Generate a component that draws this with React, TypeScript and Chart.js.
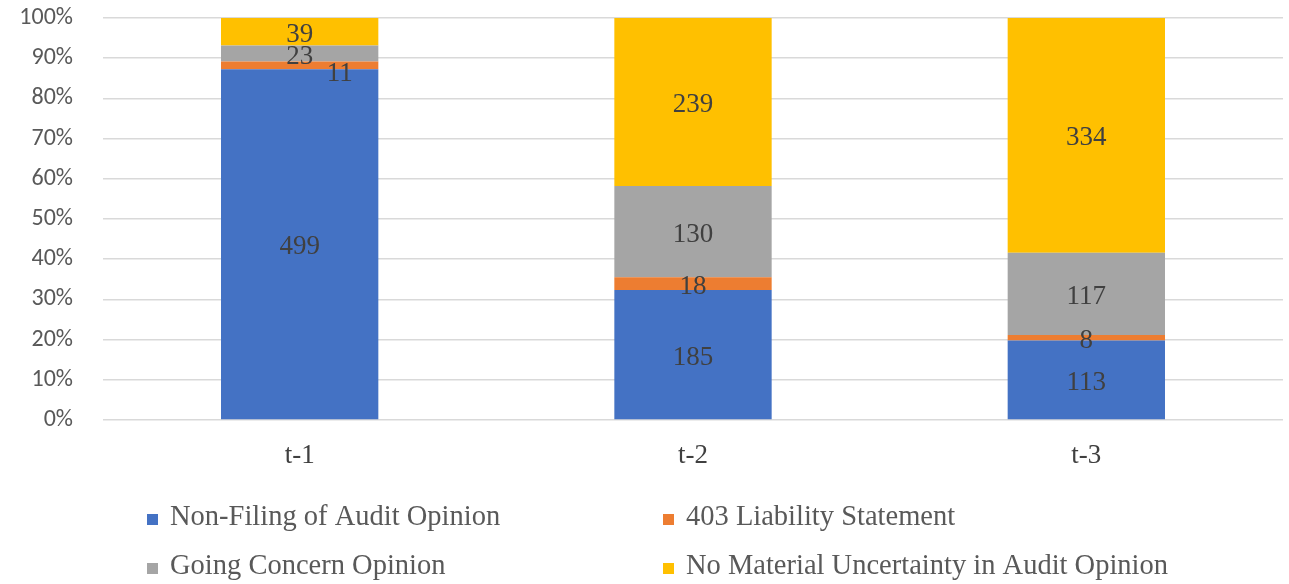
import React, { useEffect, useRef } from "react";
import { Chart, registerables } from "chart.js";

Chart.register(...registerables);

const categories = ["t-1", "t-2", "t-3"];
const seriesNames = [
  "Non-Filing of Audit Opinion",
  "403 Liability Statement",
  "Going Concern Opinion",
  "No Material Uncertainty in Audit Opinion",
];
const nonFiling = [499, 185, 113];
const liability403 = [11, 18, 8];
const goingConcern = [23, 130, 117];
const noMaterial = [39, 239, 334];
const colors = ["#4472C4", "#ED7D31", "#A5A5A5", "#FFC000"];
const yTicks = [0, 10, 20, 30, 40, 50, 60, 70, 80, 90, 100];

const counts = [nonFiling, liability403, goingConcern, noMaterial];
const totals = categories.map((_, i) => counts.reduce((s, a) => s + a[i], 0));

const SERIF = "'Liberation Serif', 'Times New Roman', serif";
const SANS = "Carlito, Lato, 'Liberation Sans', sans-serif";

const labelPlugin = {
  id: "segLabels",
  afterDatasetsDraw(chart: any) {
    const ctx = chart.ctx;
    ctx.save();
    ctx.font = `27px ${SERIF}`;
    ctx.fillStyle = "#404040";
    ctx.textAlign = "center";
    ctx.textBaseline = "middle";
    chart.data.datasets.forEach((ds: any, di: number) => {
      const meta = chart.getDatasetMeta(di);
      meta.data.forEach((bar: any, i: number) => {
        const raw = counts[di][i];
        const cy = (bar.y + bar.base) / 2;
        let dx = 0;
        let dy = 3;
        if (di === 1 && i === 0) {
          dx = 40;
          dy = 8;
        }
        ctx.fillText(String(raw), bar.x + dx, cy + dy);
      });
    });
    ctx.restore();
  },
};

const legendPlugin = {
  id: "gridLegend",
  afterDraw(chart: any) {
    const ctx = chart.ctx;
    ctx.save();
    ctx.font = `28.5px ${SERIF}`;
    ctx.textBaseline = "middle";
    ctx.textAlign = "left";
    const pos = [
      [147, 518],
      [663, 518],
      [147, 567],
      [663, 567],
    ];
    [0, 1, 2, 3].forEach((si, k) => {
      const [x, y] = pos[k];
      ctx.fillStyle = colors[si];
      ctx.fillRect(x, y - 4, 11, 11);
      ctx.fillStyle = "#595959";
      ctx.fillText(seriesNames[si], x + 23, y);
    });
    ctx.restore();
  },
};

export default function App() {
  const ref = useRef<HTMLCanvasElement>(null);
  useEffect(() => {
    if (!ref.current) return;
    const chart = new Chart(ref.current, {
      type: "bar",
      data: {
        labels: categories,
        datasets: counts.map((arr, di) => ({
          label: seriesNames[di],
          data: arr.map((v, i) => (v / totals[i]) * 100),
          backgroundColor: colors[di],
          borderWidth: 0,
          barPercentage: 0.8,
          categoryPercentage: 0.5,
        })),
      },
      options: {
        animation: false,
        responsive: false,
        maintainAspectRatio: false,
        layout: { padding: { top: 18, right: 6, left: 0, bottom: 0 } },
        plugins: { legend: { display: false }, tooltip: { enabled: false } },
        scales: {
          x: {
            stacked: true,
            grid: { display: false, drawTicks: false },
            border: { display: false },
            ticks: {
              color: "#404040",
              font: { family: SERIF, size: 27 },
              padding: 20,
            },
            afterFit(scale: any) {
              scale.height = 164;
              scale.paddingLeft = 0;
              scale.paddingRight = 0;
            },
          },
          y: {
            stacked: true,
            min: 0,
            max: 100,
            afterBuildTicks(scale: any) {
              scale.ticks = yTicks.map((v) => ({ value: v }));
            },
            grid: { color: "#D9D9D9", lineWidth: 1.5, drawTicks: false },
            border: { display: false },
            ticks: {
              color: "#595959",
              font: { family: SANS, size: 24 },
              padding: 30,
              callback: (v: any) => `${v}%`,
            },
            afterFit(scale: any) {
              scale.width = 103;
              scale.paddingTop = 0;
              scale.paddingBottom = 0;
            },
          },
        },
      },
      plugins: [labelPlugin, legendPlugin],
    });
    return () => chart.destroy();
  }, []);
  return (
    <div style={{ position: "absolute", left: 0, top: 0, width: 1289, height: 584, background: "#fff" }}>
      <canvas ref={ref} width={1289} height={584} style={{ display: "block" }} />
    </div>
  );
}
